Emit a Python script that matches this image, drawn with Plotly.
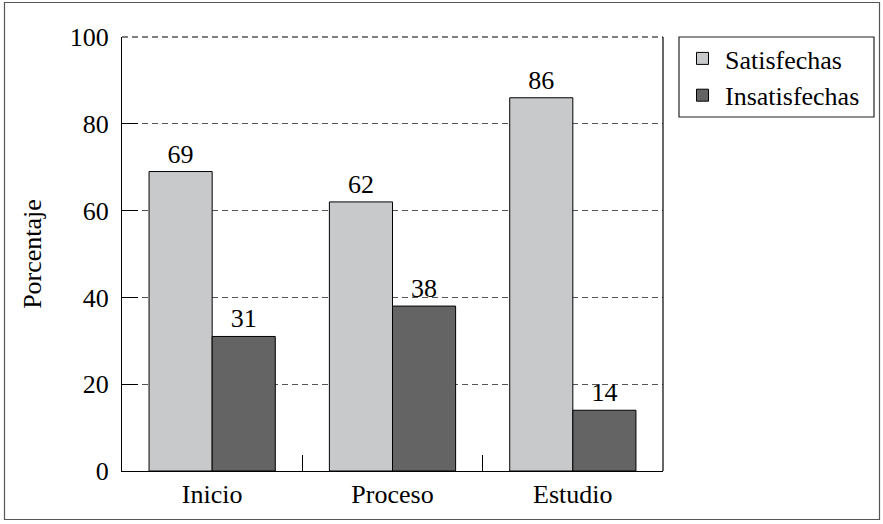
import plotly.graph_objects as go

categories = ["Inicio", "Proceso", "Estudio"]
satisfechas = [69, 62, 86]
insatisfechas = [31, 38, 14]
series_names = ["Satisfechas", "Insatisfechas"]
y_title = "Porcentaje"

FONT = "Liberation Serif"
FS = 26
W, H = 883, 524
L, R, T, B = 122, 220, 37, 53
pw, ph = W - L - R, H - T - B

fig = go.Figure()
fig.add_trace(go.Bar(
    x=categories, y=satisfechas, name=series_names[0],
    marker=dict(color="#c8c9cb", line=dict(color="black", width=1)),
    text=satisfechas, textposition="outside", cliponaxis=False,
    textfont=dict(family=FONT, size=FS, color="black"),
))
fig.add_trace(go.Bar(
    x=categories, y=insatisfechas, name=series_names[1],
    marker=dict(color="#646464", line=dict(color="black", width=1)),
    text=insatisfechas, textposition="outside", cliponaxis=False,
    textfont=dict(family=FONT, size=FS, color="black"),
))

def px_x(p):
    return (p - L) / pw

def px_y(p):
    return (H - B - p) / ph

shapes = [
    dict(type="line", xref="paper", yref="paper", x0=1, x1=1, y0=0, y1=1,
         line=dict(color="black", width=1.2)),
    dict(type="line", xref="paper", yref="paper", x0=0, x1=1, y0=1, y1=1,
         line=dict(color="black", width=1.2, dash="6px,4px")),
    # outer frame
    dict(type="rect", xref="paper", yref="paper",
         x0=px_x(4.5), x1=px_x(879.5), y0=px_y(519.5), y1=px_y(2.5),
         line=dict(color="#555555", width=1.2), fillcolor="rgba(0,0,0,0)", layer="below"),
    # legend frame
    dict(type="rect", xref="paper", yref="paper",
         x0=px_x(679), x1=px_x(874), y0=px_y(117), y1=px_y(37),
         line=dict(color="#222222", width=1.2), fillcolor="rgba(0,0,0,0)", layer="above"),
]

fig.update_layout(
    width=W, height=H,
    margin=dict(l=L, r=R, t=T, b=B),
    paper_bgcolor="white", plot_bgcolor="white",
    font=dict(family=FONT, size=FS, color="black"),
    barmode="group", bargap=0.3, bargroupgap=0,
    showlegend=True,
    legend=dict(
        x=px_x(680), y=px_y(35), xanchor="left", yanchor="top",
        borderwidth=0, bgcolor="rgba(0,0,0,0)",
        font=dict(family=FONT, size=FS, color="black"),
        itemwidth=35, tracegroupgap=0,
    ),
    shapes=shapes,
    xaxis=dict(
        type="category", range=[-0.5, 2.5],
        showline=True, linecolor="black", linewidth=1.2,
        ticks="inside", tickson="boundaries", ticklen=16, tickcolor="black", tickwidth=1.2,
        tickfont=dict(family=FONT, size=FS, color="black"),
        showgrid=False,
    ),
    yaxis=dict(
        range=[0, 100], dtick=20, tick0=0,
        showline=True, linecolor="black", linewidth=1.2,
        ticks="inside", ticklen=16, tickcolor="black", tickwidth=1.2,
        ticklabelstandoff=7,
        tickfont=dict(family=FONT, size=FS, color="black"),
        showgrid=True, gridcolor="#555555", gridwidth=1, griddash="6px,4px",
        zeroline=False,
        title=dict(text=y_title, font=dict(family=FONT, size=FS, color="black"), standoff=20),
    ),
)

fig.write_html("out.html", config={"displayModeBar": False},
               post_script="document.body.style.margin='0';")
